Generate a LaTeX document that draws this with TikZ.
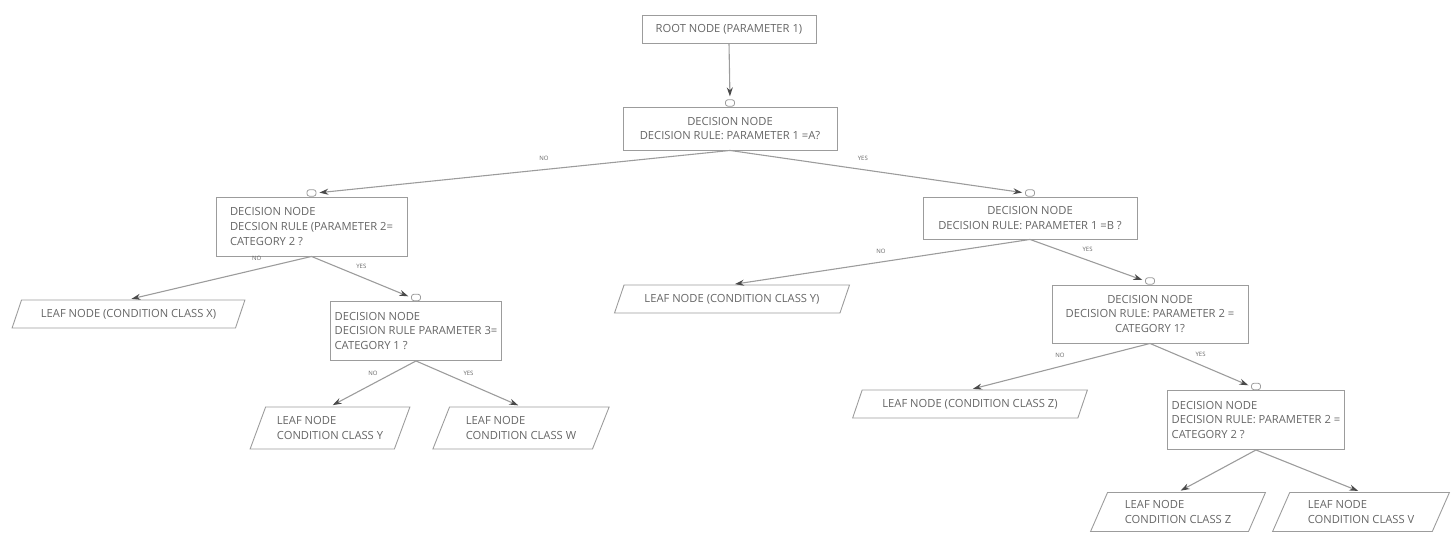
\documentclass[tikz,border=0pt]{standalone}
\usepackage{fontspec}
\setmainfont{Open Sans}
\usetikzlibrary{shapes.geometric,arrows.meta}
\definecolor{txt}{HTML}{666666}
\definecolor{ln}{HTML}{9C9C9C}
\definecolor{tip}{HTML}{4A4A4A}
\begin{document}
\begin{tikzpicture}[x=0.5pt,y=-0.5pt,
  base/.style={draw=ln, line width=0.45pt, text=txt, font=\fontsize{5.6}{7.4}\selectfont, inner xsep=3.5pt, inner ysep=2pt},
  box/.style={base, rectangle, align=center},
  lbox/.style={base, rectangle, align=left, inner xsep=2pt},
  leaf/.style={base, trapezium, trapezium left angle=65, trapezium right angle=115, trapezium stretches=true, align=left},
  marker/.style={draw=ln, line width=0.4pt, fill=white, rounded corners=1.2pt, minimum width=4.5pt, minimum height=3.2pt, inner sep=0pt},
  arr/.style={draw=ln, line width=0.55pt, -{Stealth[length=4.5pt,width=3pt,color=tip,fill=tip]}, shorten >=1.5pt},
  lab/.style={font=\fontsize{3}{3.5}\selectfont, text=txt, inner sep=1pt}
]
\useasboundingbox (0,0) rectangle (1456,538);

% nodes
\node[box, minimum width=87pt, minimum height=14pt] (root) at (729,29) {ROOT NODE (PARAMETER 1)};
\node[box, minimum width=107pt, minimum height=21.5pt] (d1) at (730,128.5) {DECISION NODE\\DECISION RULE: PARAMETER 1 =A?};
\node[lbox, minimum width=95.5pt, minimum height=29.5pt] (d2) at (311.5,226.5) {DECISION NODE\\DECSION RULE (PARAMETER 2=\\CATEGORY 2 ?};
\node[box, minimum width=107pt, minimum height=21pt] (d3) at (1030,218) {DECISION NODE\\DECISION RULE: PARAMETER 1 =B ?};
\node[leaf, minimum width=116.5pt, minimum height=14pt] (lx) at (128.5,314) {LEAF NODE (CONDITION CLASS X)};
\node[lbox, minimum width=81pt, minimum height=29.5pt] (d4) at (416,331) {DECISION NODE\\DECISION RULE PARAMETER 3=\\CATEGORY 1 ?};
\node[leaf, minimum width=117.5pt, minimum height=14pt] (ly) at (732,299) {LEAF NODE (CONDITION CLASS Y)};
\node[box, minimum width=98pt, minimum height=29pt] (d5) at (1150,314) {DECISION NODE\\DECISION RULE: PARAMETER 2 =\\CATEGORY 1?};
\node[leaf, minimum width=80pt, minimum height=21pt] (ly2) at (330,428) {LEAF NODE\\CONDITION CLASS Y};
\node[leaf, minimum width=88.5pt, minimum height=21pt] (lw) at (521,428) {LEAF NODE\\CONDITION CLASS W};
\node[leaf, minimum width=117.5pt, minimum height=14pt] (lz) at (970,404) {LEAF NODE (CONDITION CLASS Z)};
\node[lbox, minimum width=86.5pt, minimum height=29.5pt] (d6) at (1256,420) {DECISION NODE\\DECISION RULE: PARAMETER 2 =\\CATEGORY 2 ?};
\node[leaf, minimum width=87.5pt, minimum height=19.5pt] (lz2) at (1178,512) {LEAF NODE\\CONDITION CLASS Z};
\node[leaf, minimum width=89pt, minimum height=19.5pt] (lv) at (1361,512) {LEAF NODE\\CONDITION CLASS V};

% markers on decision nodes
\node[marker, anchor=south] (m1) at (d1.north) {};
\node[marker, anchor=south] (m2) at (d2.north) {};
\node[marker, anchor=south] (m3) at (d3.north) {};
\node[marker, anchor=south] (m4) at (d4.north) {};
\node[marker, anchor=south] (m5) at (d5.north) {};
\node[marker, anchor=south] (m6) at (d6.north) {};

% connectors
\draw[arr] (root.south) -- (m1.north);
\draw[arr] (d1.south) -- node[lab, pos=0.45, above=3pt] {NO} (m2.east);
\draw[arr] (d1.south) -- node[lab, pos=0.45, above=3pt] {YES} (m3.west);
\draw[arr] (d2.south) -- node[lab, pos=0.3, above=3pt] {NO} (lx.north);
\draw[arr] (d2.south) -- node[lab, pos=0.5, above=3pt] {YES} (m4.west);
\draw[arr] (d3.south) -- node[lab, pos=0.5, above=3pt] {NO} (ly.north);
\draw[arr] (d3.south) -- node[lab, pos=0.5, above=3pt] {YES} (m5.west);
\draw[arr] (d4.south) -- node[lab, pos=0.5, above=3pt] {NO} (ly2.north);
\draw[arr] (d4.south) -- node[lab, pos=0.5, above=3pt] {YES} (lw.north);
\draw[arr] (d5.south) -- node[lab, pos=0.5, above=3pt] {NO} (lz.north);
\draw[arr] (d5.south) -- node[lab, pos=0.5, above=3pt] {YES} (m6.west);
\draw[arr] (d6.south) -- (lz2.north);
\draw[arr] (d6.south) -- (lv.north);
\end{tikzpicture}
\end{document}
